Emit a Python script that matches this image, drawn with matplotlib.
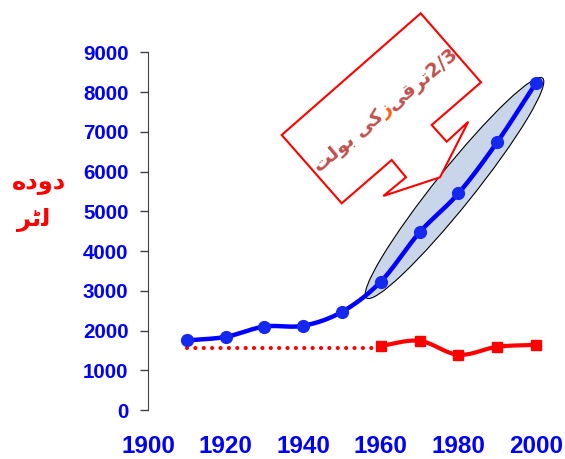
import numpy as np
import matplotlib.pyplot as plt
from matplotlib.patches import Ellipse, Polygon
from matplotlib.transforms import IdentityTransform

# milk output (litres) by year
years = [1910, 1920, 1930, 1940, 1950, 1960, 1970, 1980, 1990, 2000]
milk_total = [1750, 1840, 2100, 2120, 2470, 3230, 4470, 5450, 6740, 8230]
base_years = [1960, 1970, 1980, 1990, 2000]
milk_base = [1615, 1740, 1390, 1590, 1640]
early_years = [1910, 1958]
early_base = [1560, 1560]

x_ticks = [1900, 1920, 1940, 1960, 1980, 2000]
y_ticks = list(range(0, 9001, 1000))

# Urdu strings in visual (left-to-right) order, using presentation forms
ylabel_top = '\uFEE9\uFEA9\uFEED\uFEA9'
ylabel_bottom = '\uFEAE\uFB68\uFEDF'
note_parts = [
    ('\uFE96\uFEDF\uFEEE\uFE91 \uFBFD\uFB90', '#c0504d'),
    ('\uFEAF', '#ff5a10'),
    ('\uFBFD\uFED7\uFEAE\uFE972/3', '#c0504d'),
]


def smooth(x, y, n=24):
    # Catmull-Rom curve through the points
    x = np.asarray(x, float)
    y = np.asarray(y, float)
    px = np.concatenate([[2 * x[0] - x[1]], x, [2 * x[-1] - x[-2]]])
    py = np.concatenate([[2 * y[0] - y[1]], y, [2 * y[-1] - y[-2]]])
    xs, ys = [], []
    t = np.linspace(0, 1, n)
    for i in range(1, len(px) - 2):
        for p, out in ((px, xs), (py, ys)):
            p0, p1, p2, p3 = p[i - 1], p[i], p[i + 1], p[i + 2]
            out.extend(0.5 * (2 * p1 + (-p0 + p2) * t
                              + (2 * p0 - 5 * p1 + 4 * p2 - p3) * t ** 2
                              + (-p0 + 3 * p1 - 3 * p2 + p3) * t ** 3))
    return np.array(xs), np.array(ys)


W, H = 565, 459
fig = plt.figure(figsize=(W / 100, H / 100), dpi=100)
ax = fig.add_axes([148 / W, 1 - 410 / H, (536 - 148) / W, (410 - 52.3) / H])
ax.set_xlim(1900.3, 2000)
ax.set_ylim(0, 9000)
for s in ['top', 'right', 'bottom']:
    ax.spines[s].set_visible(False)
ax.spines['left'].set_color('#404040')
ax.set_xticks(x_ticks)
ax.set_yticks(y_ticks)
ax.tick_params(axis='x', length=0, pad=18)
ax.tick_params(axis='y', length=6, width=1, color='#404040', pad=8)
for lab in ax.get_xticklabels():
    lab.set_fontfamily('Liberation Sans')
    lab.set_fontweight('bold')
    lab.set_fontsize(17.5)
    lab.set_color('#0000ff')
for lab in ax.get_yticklabels():
    lab.set_fontfamily('Liberation Sans')
    lab.set_fontweight('bold')
    lab.set_fontsize(14.8)
    lab.set_color('#0000ff')

# ellipse around the recent growth, drawn in pixel space
p0 = ax.transData.transform((1956.3, 2820))
p1 = ax.transData.transform((2001.7, 8350))
centre = (p0 + p1) / 2
d = p1 - p0
ell = Ellipse(centre, np.hypot(*d), 38, angle=np.degrees(np.arctan2(d[1], d[0])),
              transform=IdentityTransform(), facecolor='#c9d6ea', edgecolor='black',
              lw=0.8, zorder=1, clip_on=False)
ax.add_artist(ell)

sx, sy = smooth(years, milk_total)
ax.plot(sx, sy, color='#0000ff', lw=3.2, zorder=3, clip_on=False)
ax.plot(years, milk_total, 'o', color='#1428f0', ms=8.5, zorder=4, clip_on=False)

bx, by = smooth(base_years, milk_base)
ax.plot(bx, by, color='#ff0000', lw=3, zorder=3, clip_on=False)
ax.plot(base_years, milk_base, 's', color='#ff0000', ms=7.5, zorder=4, clip_on=False)
ax.plot(early_years, early_base, color='#ff0000', lw=3,
        linestyle=(0, (0.01, 2)), dash_capstyle='round', zorder=3)

# speech-bubble callout
bubble = [(420.7, 13.3), (481, 82.3), (431.7, 125), (446.7, 141.7), (468.3, 121.7),
          (440, 177.3), (383.3, 196), (406, 177.3), (391.7, 160), (341.7, 203.3),
          (281.7, 135)]
fig.add_artist(Polygon([(x / W, 1 - y / H) for x, y in bubble], closed=True,
                       transform=fig.transFigure, facecolor='white',
                       edgecolor='#ff0000', lw=1.5, zorder=5))

renderer = fig.canvas.get_renderer()
font = dict(family=['DejaVu Sans'], fontweight='bold', fontsize=14)
widths = []
for s, c in note_parts:
    t = fig.text(0, 0, s, **font)
    widths.append(t.get_window_extent(renderer).width)
    t.remove()
ang = np.radians(40)
u = np.array([np.cos(ang), np.sin(ang)])
mid = np.array([386, H - 110])
pos = mid - u * sum(widths) / 2
for (s, c), w in zip(note_parts, widths):
    fig.text(pos[0] / W, pos[1] / H, s, color=c, rotation=40, rotation_mode='anchor',
             ha='left', va='center', zorder=6, **font)
    pos = pos + u * w

fig.text(39 / W, 1 - 182 / H, ylabel_top, color='#ff0000', ha='center', va='center',
         family=['DejaVu Sans'], fontweight='bold', fontsize=17.5)
fig.text(34 / W, 1 - 220 / H, ylabel_bottom, color='#ff0000', ha='center', va='center',
         family=['DejaVu Sans'], fontweight='bold', fontsize=17.5)

fig.savefig('out.png', dpi=100)
